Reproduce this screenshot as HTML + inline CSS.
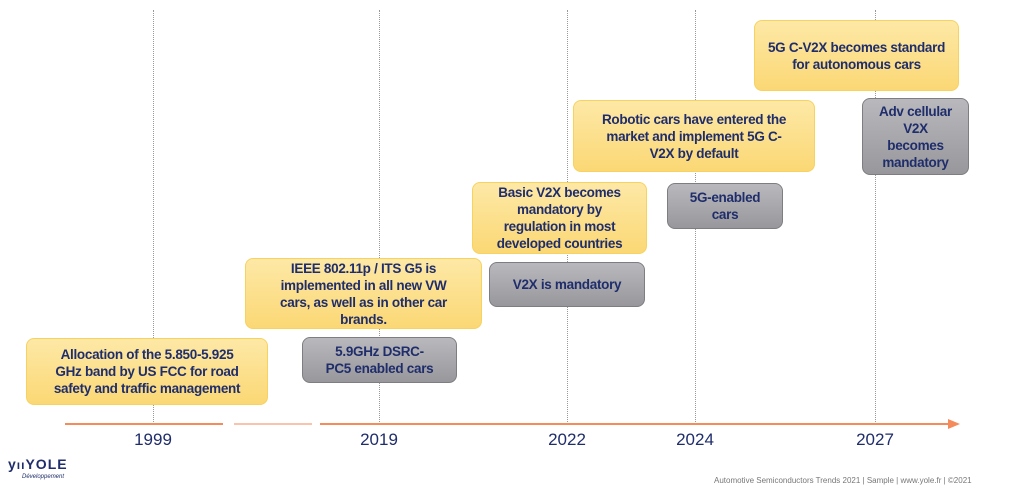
<!DOCTYPE html>
<html><head><meta charset="utf-8"><style>
body{margin:0;width:1023px;height:501px;background:#fff;position:relative;overflow:hidden;font-family:"Liberation Sans",sans-serif}
.v{position:absolute;top:10px;height:414px;border-left:1px dotted #999;width:0}
.b{position:absolute;box-sizing:border-box;border-radius:8px;display:flex;align-items:center;justify-content:center;text-align:center;font-weight:bold;font-size:13.5px;line-height:17px;color:#1f2d6b;letter-spacing:-0.3px}
.y{background:linear-gradient(#fde8a6,#fbd875);border:1.5px solid #f7d25f}
.g{background:linear-gradient(#b9b9bd,#98989c);border:1.5px solid #7d7d82}
.yr{position:absolute;top:430px;font-size:17px;color:#1f2d6b;transform:translateX(-50%)}
.ax{position:absolute;top:423px;height:2px;background:#f58a5a}
</style></head><body>
<div class="v" style="left:153px"></div>
<div class="v" style="left:379px"></div>
<div class="v" style="left:567px"></div>
<div class="v" style="left:695px"></div>
<div class="v" style="left:875px"></div>
<div class="ax" style="left:65px;width:158px"></div>
<div class="ax" style="left:234px;width:78px;opacity:.5"></div>
<div class="ax" style="left:320px;width:630px"></div>
<div style="position:absolute;left:948px;top:419px;border-left:12px solid #f58a5a;border-top:5px solid transparent;border-bottom:5px solid transparent"></div>
<div class="yr" style="left:153px">1999</div>
<div class="yr" style="left:379px">2019</div>
<div class="yr" style="left:567px">2022</div>
<div class="yr" style="left:695px">2024</div>
<div class="yr" style="left:875px">2027</div>
<div class="b y" style="left:26px;top:338px;width:242px;height:67px">Allocation of the 5.850-5.925<br>GHz band by US FCC for road<br>safety and traffic management</div>
<div class="b y" style="left:245px;top:258px;width:237px;height:71px">IEEE 802.11p / ITS G5 is<br>implemented in all new VW<br>cars, as well as in other car<br>brands.</div>
<div class="b g" style="left:302px;top:337px;width:155px;height:46px">5.9GHz DSRC-<br>PC5 enabled cars</div>
<div class="b y" style="left:472px;top:182px;width:175px;height:72px">Basic V2X becomes<br>mandatory by<br>regulation in most<br>developed countries</div>
<div class="b g" style="left:489px;top:262px;width:156px;height:45px">V2X is mandatory</div>
<div class="b y" style="left:573px;top:100px;width:242px;height:72px">Robotic cars have entered the<br>market and implement 5G C-<br>V2X by default</div>
<div class="b g" style="left:667px;top:183px;width:116px;height:46px">5G-enabled<br>cars</div>
<div class="b y" style="left:754px;top:20px;width:205px;height:71px">5G C-V2X becomes standard<br>for autonomous cars</div>
<div class="b g" style="left:862px;top:98px;width:107px;height:77px">Adv cellular<br>V2X<br>becomes<br>mandatory</div>
<div style="position:absolute;left:8px;top:456px;font-weight:bold;font-size:14px;color:#1f2d6b;letter-spacing:1px">y<span style="font-size:12px">ıı</span>YOLE</div>
<div style="position:absolute;left:22px;top:474px;font-size:6px;color:#1f2d6b;font-style:italic">Développement</div>
<div style="position:absolute;left:714px;top:476px;font-size:8px;color:#777">Automotive Semiconductors Trends 2021 | Sample | www.yole.fr | ©2021</div>
</body></html>
